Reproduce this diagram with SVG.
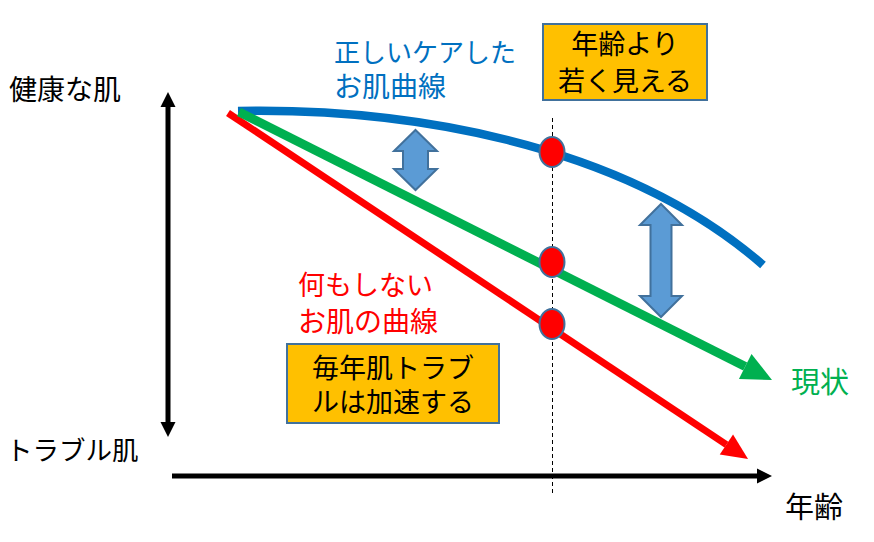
<svg xmlns="http://www.w3.org/2000/svg" width="874" height="542" viewBox="0 0 874 542">
<style>
text{font-family:"Noto Sans CJK JP","Noto Sans",sans-serif;font-size:27px}
.blk{fill:#000}
.box{fill:#FFC000;stroke:#41719C;stroke-width:2}
.dot{fill:#FF0000;stroke:#41719C;stroke-width:2}
.dbl{fill:#5B9BD5;stroke:#41719C;stroke-width:2;stroke-linejoin:miter}
</style>
<defs>
<marker id="ahBlack" markerUnits="userSpaceOnUse" markerWidth="20" markerHeight="20" refX="0" refY="0" orient="auto" overflow="visible"><path d="M0,-7.5 L15,0 L0,7.5 Z" fill="#000"/></marker>
<marker id="ahGreen" markerUnits="userSpaceOnUse" markerWidth="40" markerHeight="40" refX="0" refY="0" orient="auto" overflow="visible"><path d="M0,-14 L30,0 L0,14 Z" fill="#00B050"/></marker>
<marker id="ahRed" markerUnits="userSpaceOnUse" markerWidth="40" markerHeight="40" refX="0" refY="0" orient="auto" overflow="visible"><path d="M0,-12 L26,0 L0,12 Z" fill="#FF0000"/></marker>
</defs>
<g id="connectors">
<line id="y-axis-up" x1="168" y1="265" x2="168" y2="107" stroke="#000" stroke-width="5" marker-end="url(#ahBlack)"/>
<line id="y-axis-down" x1="168" y1="265" x2="168" y2="422" stroke="#000" stroke-width="5" marker-end="url(#ahBlack)"/>
<line id="x-axis" x1="172" y1="476" x2="757" y2="476" stroke="#000" stroke-width="5" marker-end="url(#ahBlack)"/>
<line id="dashed" x1="552.5" y1="118" x2="552.5" y2="495" stroke="#000" stroke-width="1" stroke-dasharray="4,3"/>
<path id="blue-curve" d="M238,111 C400,108 620,140 763,265" fill="none" stroke="#0070C0" stroke-width="8.5"/>
<line id="red-line" x1="228" y1="113" x2="726.4" y2="444.6" stroke="#FF0000" stroke-width="7" marker-end="url(#ahRed)"/>
<line id="green-line" x1="239" y1="112" x2="745.2" y2="366.5" stroke="#00B050" stroke-width="9" marker-end="url(#ahGreen)"/>
</g>
<g id="dots">
<ellipse class="dot" cx="552" cy="152" rx="12.5" ry="15"/>
<ellipse class="dot" cx="552" cy="262" rx="12.5" ry="15"/>
<ellipse class="dot" cx="552" cy="324" rx="12.5" ry="15"/>
</g>
<g id="gap-arrow-1">
<path class="dbl" d="M415.5,130 L437,151 L428,151 L428,169 L437,169 L415.5,190 L394,169 L403,169 L403,151 L394,151 Z"/>
</g>
<g id="gap-arrow-2">
<path class="dbl" d="M661,204 L682,225 L671.5,225 L671.5,296 L682,296 L661,317 L640,296 L650.5,296 L650.5,225 L640,225 Z"/>
</g>
<g id="label-healthy"><text x="9" y="100" class="blk" style="font-size:28px">健康な肌</text></g>
<g id="label-trouble"><text x="6" y="460" class="blk" style="font-size:26.5px">トラブル肌</text></g>
<g id="label-age"><text x="785" y="518" class="blk" style="font-size:29px">年齢</text></g>
<g id="label-current"><text x="791" y="393" fill="#00B050" style="font-size:29px">現状</text></g>
<g id="label-care">
<text fill="#0070C0"><tspan x="334" y="62" style="font-size:26px">正しいケアした</tspan><tspan x="334" y="97" style="font-size:28px">お肌曲線</tspan></text>
</g>
<g id="label-nothing">
<text fill="#FF0000"><tspan x="298" y="295">何もしない</tspan><tspan x="298" y="332" style="font-size:28px">お肌の曲線</tspan></text>
</g>
<g id="box-younger">
<rect class="box" x="543" y="24" width="164" height="76"/>
<text text-anchor="middle" class="blk"><tspan x="625" y="54">年齢より</tspan><tspan x="625" y="91">若く見える</tspan></text>
</g>
<g id="box-accelerate">
<rect class="box" x="287" y="344" width="212" height="79"/>
<text text-anchor="middle" class="blk"><tspan x="393" y="378">毎年肌トラブ</tspan><tspan x="393" y="412">ルは加速する</tspan></text>
</g>
</svg>
